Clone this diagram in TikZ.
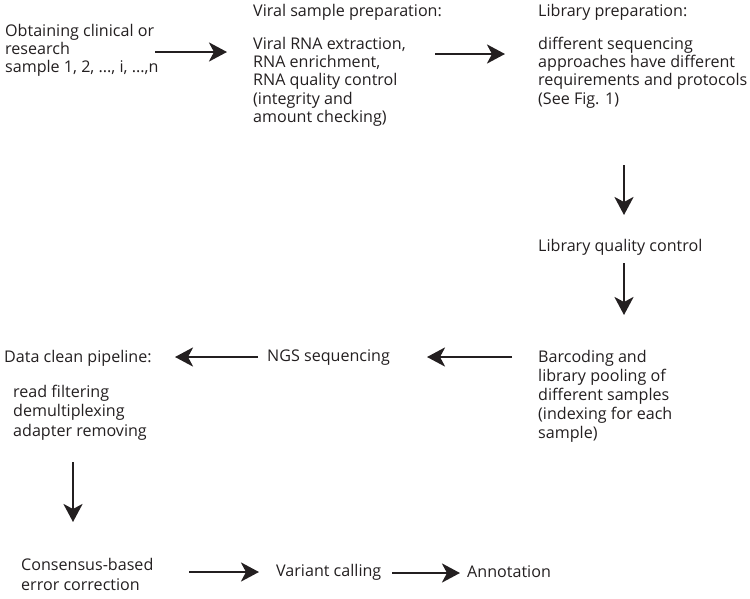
\documentclass[tikz,border=0pt]{standalone}
\usepackage{fontspec}
\setmainfont{Open Sans}
\usetikzlibrary{arrows.meta}
\definecolor{ink}{HTML}{231F20}
\tikzset{
  txt/.style={anchor=base west, inner sep=0pt, align=left, text=ink,
    font=\fontsize{16.1}{#1}\selectfont},
  txt/.default=18.25,
  arr/.style={draw=ink, line width=2.9pt,
    -{Stealth[length=18pt,width=19pt,inset=5pt]}}
}
\begin{document}
\begin{tikzpicture}[x=1pt,y=-1pt]
\useasboundingbox (0,0) rectangle (750,598);
% text blocks (anchor = baseline of the last line)
\node[txt=18] (obtain) at (5,72.4) {Obtaining clinical or\\research\\sample 1, 2, ..., i, ...,n};
\node[txt] (viralhead) at (253,16.4) {Viral sample preparation:};
\node[txt] (viral) at (253,122.4) {Viral RNA extraction,\\RNA enrichment,\\RNA quality control\\(integrity and\\amount checking)};
\node[txt] (libhead) at (538,16.4) {Library preparation:};
\node[txt] (lib) at (538,104.2) {different sequencing\\approaches have different\\requirements and protocols\\(See Fig. 1)};
\node[txt] (libqc) at (538,251.4) {Library quality control};
\node[txt=19] (barcode) at (538,438.4) {Barcoding and\\library pooling of\\different samples\\(indexing for each\\sample)};
\node[txt] (ngs) at (267,361.4) {NGS sequencing};
\node[txt] (datahead) at (4,362.4) {Data clean pipeline:};
\node[txt=19.5] (dataclean) at (13,436.4) {read filtering\\demultiplexing\\adapter removing};
\node[txt=20] (consensus) at (21,590.4) {Consensus-based\\error correction};
\node[txt] (variant) at (276,576.4) {Variant calling};
\node[txt] (annot) at (467,577) {Annotation};
% arrow end points
\coordinate (a1s) at (155,52);  \coordinate (a1e) at (227,52);
\coordinate (a2s) at (435,54);  \coordinate (a2e) at (505,54);
\coordinate (a3s) at (624,165); \coordinate (a3e) at (624,215);
\coordinate (a4s) at (624,263); \coordinate (a4e) at (624,315);
\coordinate (a5s) at (512,357); \coordinate (a5e) at (427,357);
\coordinate (a6s) at (258,357); \coordinate (a6e) at (175,357);
\coordinate (a7s) at (73,462);  \coordinate (a7e) at (73,522);
\coordinate (a8s) at (189,572); \coordinate (a8e) at (259,572);
\coordinate (a9s) at (392,573); \coordinate (a9e) at (460,573);
\draw[arr] (a1s) -- (a1e);
\draw[arr] (a2s) -- (a2e);
\draw[arr] (a3s) -- (a3e);
\draw[arr] (a4s) -- (a4e);
\draw[arr] (a5s) -- (a5e);
\draw[arr] (a6s) -- (a6e);
\draw[arr] (a7s) -- (a7e);
\draw[arr] (a8s) -- (a8e);
\draw[arr] (a9s) -- (a9e);
\end{tikzpicture}
\end{document}
